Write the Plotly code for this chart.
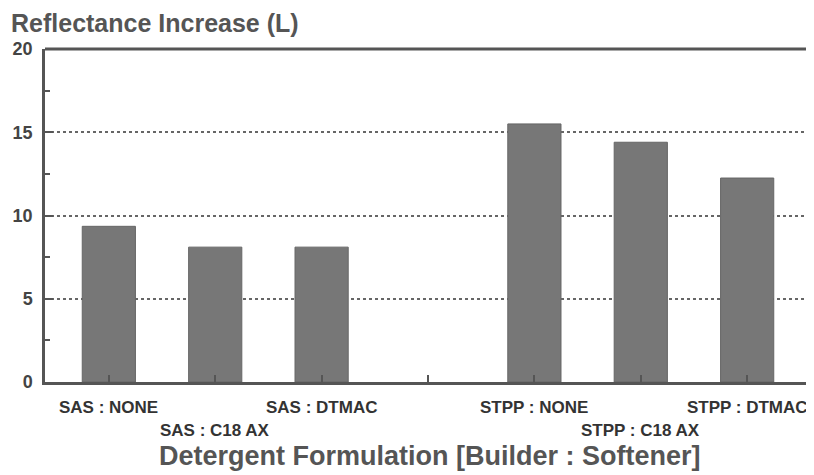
import plotly.graph_objects as go

categories = ["SAS : NONE", "SAS : C18 AX", "SAS : DTMAC", "", "STPP : NONE", "STPP : C18 AX", "STPP : DTMAC"]
positions = [0, 1, 2, 3, 4, 5, 6]
values = [9.35, 8.1, 8.1, None, 15.5, 14.4, 12.25]
label_rows = [0, 1, 0, 0, 0, 1, 0]
y_ticks = [0, 5, 10, 15, 20]

FONT = "Liberation Sans"
OFF = 8  # page body margin
W, H = 814 - OFF, 475 - OFF
PL, PR, PT, PB = 45 - OFF, 811 - OFF, 49 - OFF, 382 - OFF  # plot area in figure px
PW, PH = PR - PL, PB - PT


def py(page_y):
    return (PB - (page_y - OFF)) / PH


def px(page_x):
    return ((page_x - OFF) - PL) / PW


fig = go.Figure()
fig.add_trace(go.Bar(
    x=positions, y=values, width=0.5,
    marker=dict(color="#777777", line=dict(color="#666666", width=1)),
    showlegend=False,
))
fig.update_layout(
    width=W, height=H,
    margin=dict(l=PL, r=W - PR, t=PT, b=H - PB),
    plot_bgcolor="white", paper_bgcolor="white",
)
fig.update_xaxes(
    range=[-0.6, 6.6], tickvals=positions, showticklabels=False,
    ticks="inside", ticklen=7, tickwidth=2, tickcolor="#555555",
    showline=True, linewidth=2.5, linecolor="#555555",
    showgrid=False, zeroline=False, automargin=False,
)
fig.update_yaxes(
    range=[0, 20], tickvals=y_ticks,
    ticks="inside", ticklen=8, tickwidth=2, tickcolor="#555555",
    showline=True, linewidth=2.5, linecolor="#555555",
    showgrid=True, gridcolor="#666666", griddash="dot", gridwidth=1.5,
    zeroline=False, automargin=False, ticklabelstandoff=6,
    minor=dict(dtick=2.5, ticks="inside", ticklen=5, tickwidth=2, tickcolor="#555555", showgrid=False),
    tickfont=dict(family=FONT, size=18, color="#444444", weight="bold"),
)
for pos, cat, row in zip(positions, categories, label_rows):
    if not cat:
        continue
    fig.add_annotation(x=pos, xref="x", y=py(407 + row * 24), yref="paper",
                       yanchor="middle", text=cat, showarrow=False,
                       font=dict(family=FONT, size=17, color="#333333", weight="bold"))
fig.add_annotation(x=px(430), xref="paper", y=py(456), yref="paper", yanchor="middle",
                   text="Detergent Formulation [Builder : Softener]", showarrow=False,
                   font=dict(family=FONT, size=27, color="#555555", weight="bold"))
fig.add_annotation(x=px(9), xref="paper", xanchor="left", y=py(23), yref="paper",
                   yanchor="middle", text="Reflectance Increase (L)", showarrow=False,
                   font=dict(family=FONT, size=25, color="#555555", weight="bold"))
fig.add_shape(type="line", xref="paper", yref="paper", x0=0, x1=1, y0=1, y1=1,
              line=dict(color="#555555", width=3))
fig.add_shape(type="line", xref="paper", yref="paper", x0=1, x1=1, y0=0, y1=1,
              line=dict(color="#777777", width=1.5))
fig.write_html("out.html")
